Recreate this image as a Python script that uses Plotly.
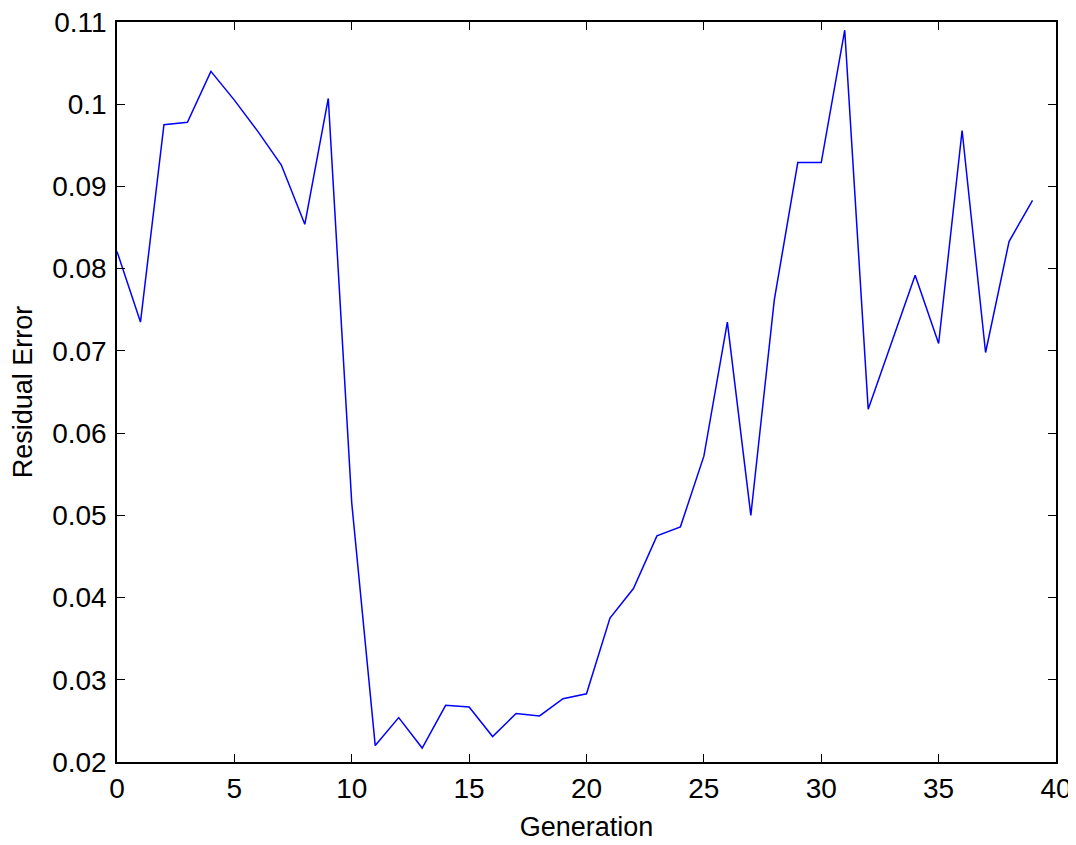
import plotly.graph_objects as go

generation = list(range(40))
residual_error = [
    0.0821, 0.0735, 0.0975, 0.0978, 0.1040, 0.1005, 0.0967, 0.0926, 0.0854, 0.1007,
    0.0515, 0.0220, 0.0254, 0.0217, 0.0269, 0.0267, 0.0231, 0.0259, 0.0256, 0.0277,
    0.0283, 0.0375, 0.0411, 0.0475, 0.0486, 0.0572, 0.0735, 0.0500, 0.0762, 0.0929,
    0.0929, 0.1090, 0.0629, 0.0710, 0.0792, 0.0709, 0.0968, 0.0698, 0.0833, 0.0883,
]
x_ticks = [0, 5, 10, 15, 20, 25, 30, 35, 40]
y_ticks = [0.02, 0.03, 0.04, 0.05, 0.06, 0.07, 0.08, 0.09, 0.1, 0.11]
y_tick_labels = ["0.02", "0.03", "0.04", "0.05", "0.06", "0.07", "0.08", "0.09", "0.1", "0.11"]

fig = go.Figure()
fig.add_trace(go.Scatter(
    x=generation, y=residual_error, mode="lines",
    line=dict(color="#0000ff", width=1.5),
    showlegend=False, hoverinfo="skip",
))

family = "Liberation Sans, Arial, sans-serif"
tick_font = dict(family=family, size=28, color="#000000")
title_font = dict(family=family, size=27, color="#000000")
axis_common = dict(
    showgrid=False, zeroline=False, showline=True, linecolor="#000000", linewidth=1.5,
    mirror="ticks", ticks="inside", ticklen=8, tickwidth=1.3, tickcolor="#000000",
    tickfont=tick_font, automargin=False, ticklabeloverflow="allow",
)
fig.update_layout(
    width=1076, height=845,
    margin=dict(l=109, r=28, t=14, b=91),
    paper_bgcolor="#ffffff", plot_bgcolor="#ffffff",
    xaxis=dict(range=[0, 40], tickvals=x_ticks, ticklabelstandoff=1,
               title=dict(text="Generation", font=title_font, standoff=14),
               **axis_common),
    yaxis=dict(range=[0.02, 0.11], tickvals=y_ticks, ticktext=y_tick_labels, ticklabelstandoff=3,
               title=dict(text="Residual Error", font=title_font, standoff=12),
               **axis_common),
)
fig.write_html("out.html")
